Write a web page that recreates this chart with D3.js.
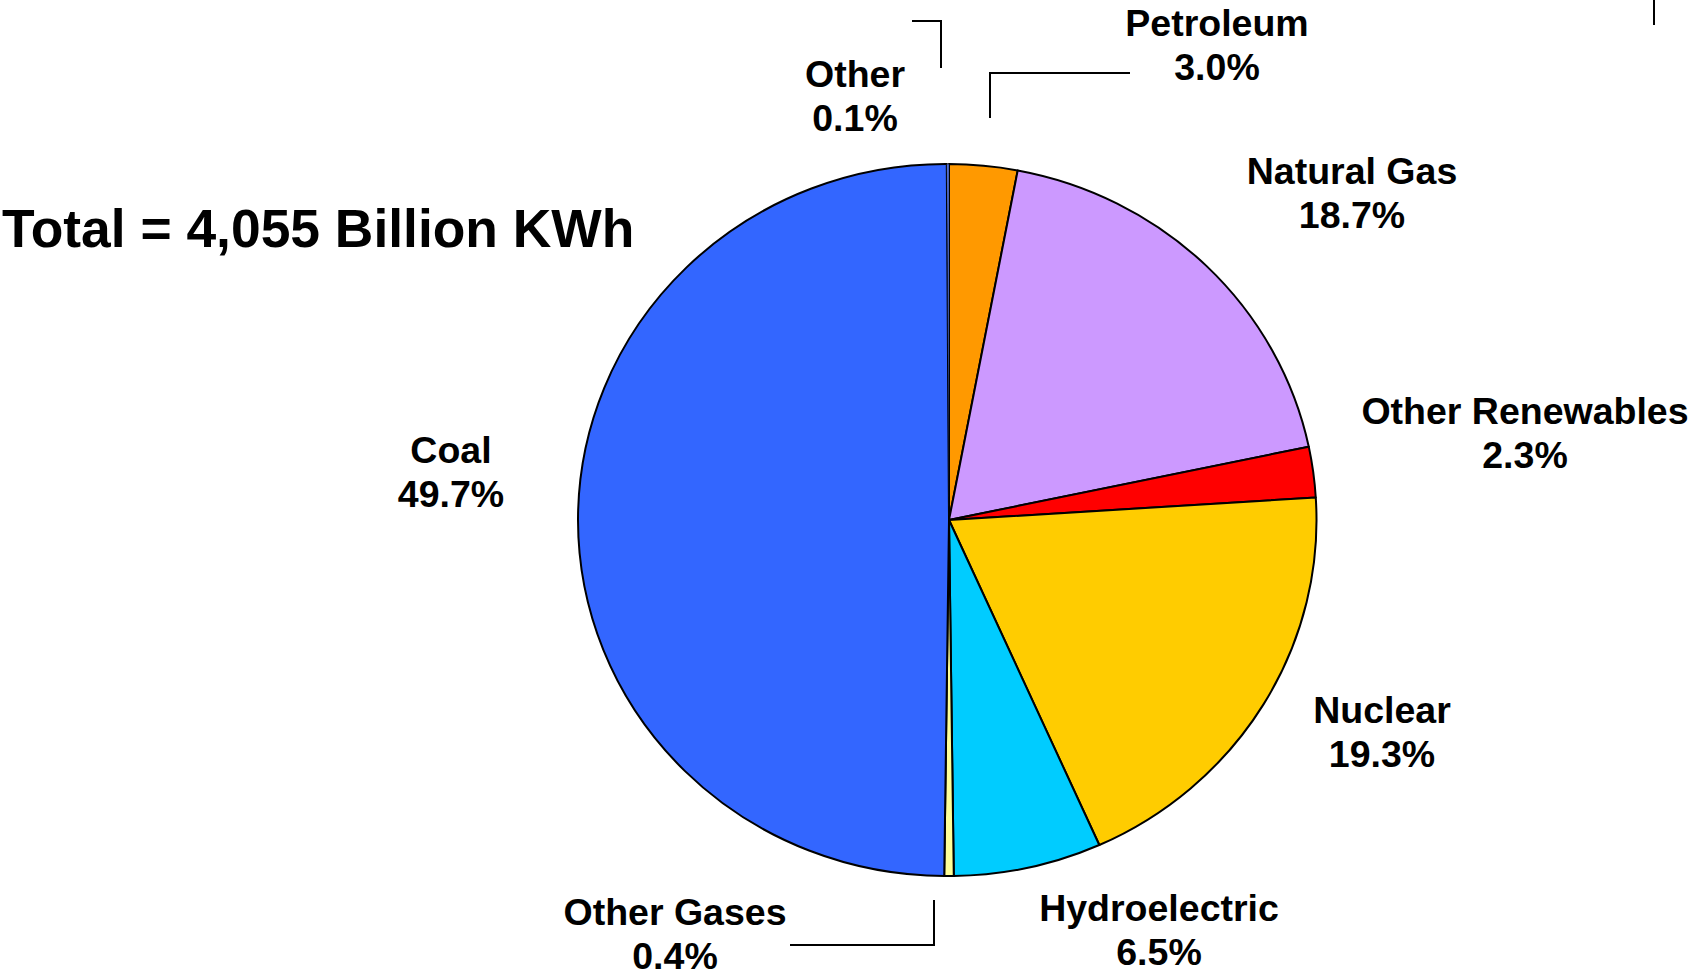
<!DOCTYPE html>
<html>
<head>
<meta charset="utf-8">
<script src="https://cdn.jsdelivr.net/npm/d3@7"></script>
<style>
  html, body { margin: 0; padding: 0; background: #fff; }
  svg { display: block; }
  text { font-family: "Liberation Sans", Arial, sans-serif; font-weight: bold; fill: #000; }
</style>
</head>
<body>
<svg id="chart" width="1701" height="976"></svg>
<script>
// ---- data ----
const categories = ["Petroleum", "Natural Gas", "Other Renewables", "Nuclear", "Hydroelectric", "Other Gases", "Coal", "Other"];
const shares = [3.0, 18.7, 2.3, 19.3, 6.5, 0.4, 49.7, 0.1];
const totalLabel = "Total = 4,055 Billion KWh";

// ---- styles / layout (not data) ----
const colors = ["#FF9900", "#CC99FF", "#FF0000", "#FFCC00", "#00CCFF", "#FFFF99", "#3366FF", "#6688FF"];
const labelAnchors = {
  "Petroleum":        [1217, 36],
  "Natural Gas":      [1352, 184],
  "Other Renewables": [1525, 424],
  "Nuclear":          [1382, 723],
  "Hydroelectric":    [1159, 921],
  "Other Gases":      [675, 925],
  "Coal":             [451, 463],
  "Other":            [855, 87]
};
const leaderLines = [
  [[912, 21], [941, 21], [941, 68]],
  [[990, 118], [990, 73], [1130, 73]],
  [[934, 900], [934, 945], [790, 945]],
  [[1654, 0], [1654, 25]]
];

const svg = d3.select("#chart");
const cx = 949, cy = 520, rx = 367.5, ry = 356;

const pie = d3.pie().sort(null).value(d => d.value);
const arcs = pie(categories.map((c, i) => ({ name: c, value: shares[i], color: colors[i] })));
const arc = d3.arc().innerRadius(0).outerRadius(1);

const g = svg.append("g").attr("transform", `translate(${cx},${cy}) scale(${rx},${ry})`);
g.selectAll("path")
  .data(arcs)
  .join("path")
  .attr("d", arc)
  .attr("fill", d => d.data.color)
  .attr("stroke", "#000")
  .attr("stroke-width", d => d.data.value < 0.2 ? 0.6 : 2)
  .attr("stroke-linejoin", "round")
  .attr("vector-effect", "non-scaling-stroke");

// leader lines
const line = d3.line();
svg.selectAll("path.leader")
  .data(leaderLines)
  .join("path")
  .attr("class", "leader")
  .attr("d", line)
  .attr("fill", "none")
  .attr("stroke", "#000")
  .attr("stroke-width", 2);

// labels
const labels = svg.selectAll("text.lbl")
  .data(arcs)
  .join("text")
  .attr("class", "lbl")
  .attr("text-anchor", "middle")
  .attr("font-size", 37.5)
  .attr("x", d => labelAnchors[d.data.name][0])
  .attr("y", d => labelAnchors[d.data.name][1]);
labels.append("tspan")
  .attr("x", d => labelAnchors[d.data.name][0])
  .text(d => d.data.name);
labels.append("tspan")
  .attr("x", d => labelAnchors[d.data.name][0])
  .attr("dy", 44)
  .text(d => d.data.value.toFixed(1) + "%");

// total title
svg.append("text")
  .attr("x", 2)
  .attr("y", 247)
  .attr("font-size", 53.4)
  .text(totalLabel);
</script>
</body>
</html>
